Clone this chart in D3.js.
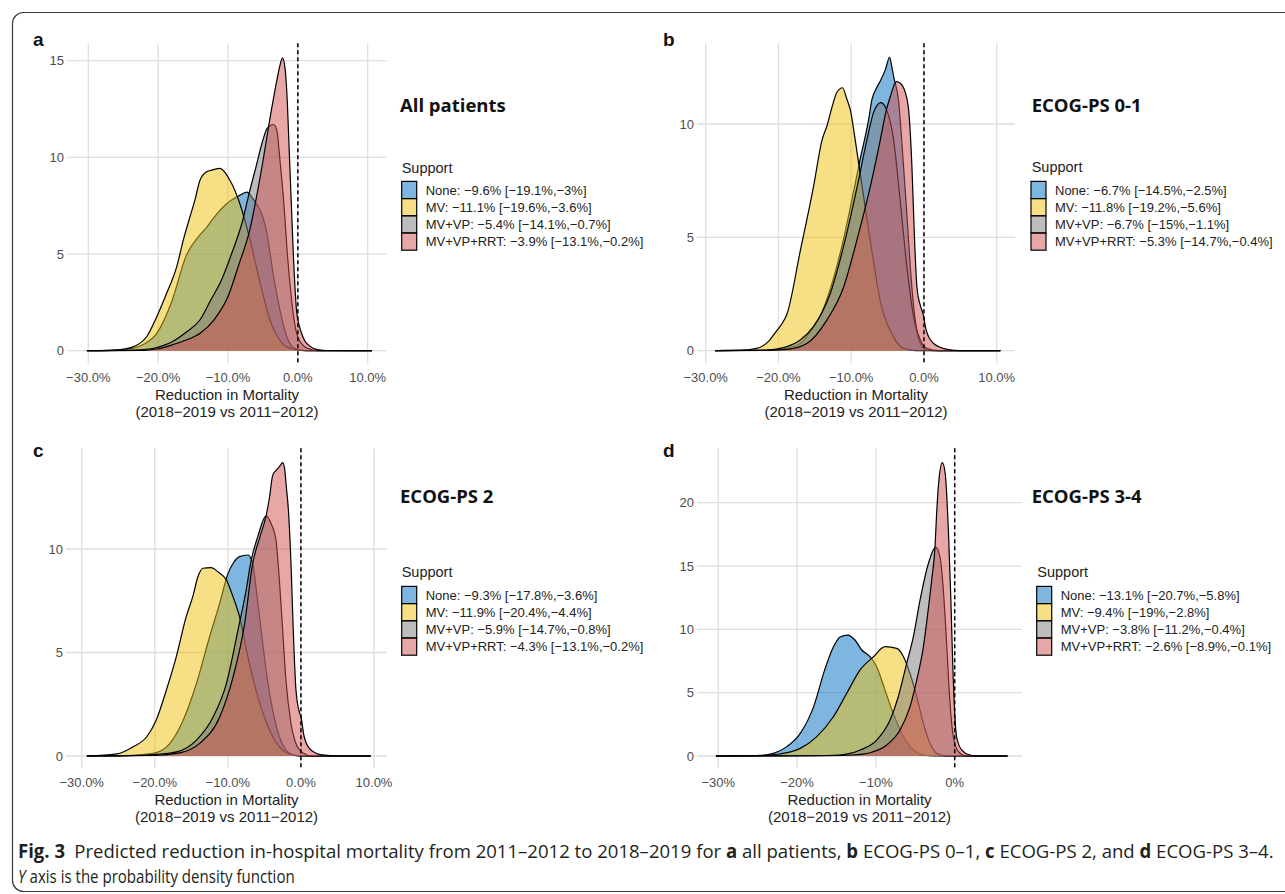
<!DOCTYPE html>
<meta charset="utf-8">
<style>

body {
  margin: 0;
  background: #fff;
}

svg {
  display: block;
  font-family: "Liberation Sans", Arial, sans-serif;
}

.grid line {
  stroke: #dedede;
  stroke-width: 1.3px;
}

.tick-label {
  font-size: 13px;
  fill: #4d4d4d;
}

.axis-title {
  font-size: 15px;
  fill: #222;
}

.letter {
  font-size: 19px;
  font-weight: bold;
  fill: #111;
}

.panel-title {
  font-family: "Open Sans", sans-serif;
  font-size: 18.5px;
  font-weight: 700;
  fill: #111;
}

.legend-title {
  font-size: 14.5px;
  fill: #222;
}

.legend-text {
  font-size: 13px;
  fill: #222;
}

.caption {
  font-family: "Open Sans", sans-serif;
  font-size: 19px;
  fill: #231f20;
}

</style>
<body>
<svg id="fig" width="1285" height="894"></svg>
<script src="https://d3js.org/d3.v7.min.js"></script>
<script>

// groups and their fill colours (drawn with 50% opacity)
const groups = ["None", "MV", "MV+VP", "MV+VP+RRT"];
const groupFill = ["#006ec1", "#edbf09", "#7b7b7b", "#d14f4f"];

// density curves: [reduction in %, density]
// a: all patients
const aNone = [[-30.2,0],[-26,0.02],[-24,0.1],[-22,0.35],[-20.2,0.9],[-18,2.6],[-16,4.9],[-14,6.0],[-13,6.4],[-12,6.9],[-10.2,7.6],[-8.5,8.0],[-7.3,8.2],[-6.5,7.9],[-5.9,7.6],[-5,6.9],[-4.5,6.2],[-3.5,3.9],[-2.5,2.0],[-1.6,0.75],[-0.6,0.15],[0.5,0.02],[2,0],[10.6,0]];
const aMV = [[-30.2,0],[-27,0.02],[-25,0.08],[-23.56,0.2],[-21.65,0.72],[-20.2,1.76],[-18.8,2.96],[-17.35,4.34],[-16.4,5.72],[-15.44,6.93],[-14.73,7.8],[-14.0,8.83],[-13.06,9.26],[-12.2,9.35],[-11.15,9.43],[-9.7,8.8],[-8.3,7.6],[-7.1,6.1],[-5.4,3.5],[-4,1.6],[-2.6,0.55],[-1.1,0.12],[0.5,0.02],[2,0],[10.6,0]];
const aMVVP = [[-30.2,0],[-24,0.02],[-21,0.1],[-19,0.3],[-17.8,0.5],[-16,0.95],[-14,1.6],[-12.5,2.6],[-11,3.6],[-9.5,5.0],[-7.85,6.8],[-7,8.1],[-6,9.5],[-5,10.9],[-4.4,11.5],[-3.5,11.7],[-3,11.4],[-2.6,10.0],[-2,7.6],[-1.5,5.0],[-1,3.0],[-0.5,1.5],[0,0.7],[1,0.2],[2,0.05],[3,0],[10.6,0]];
const aRRT = [[-30.2,0],[-22,0.02],[-20,0.1],[-18,0.3],[-16,0.55],[-14,0.9],[-12,1.6],[-10,2.8],[-8.5,4.4],[-6.85,6.3],[-6,7.8],[-5,9.8],[-4,12.0],[-3,14.0],[-2.6,14.7],[-2.2,15.15],[-1.8,14.5],[-1.5,12.8],[-1.2,10.0],[-0.9,7.3],[-0.65,5.0],[-0.4,3.2],[-0.17,2.0],[0.2,1.3],[0.54,0.9],[1,0.5],[1.5,0.3],[2.5,0.08],[4,0.01],[10.6,0]];

// b: ECOG-PS 0-1
const bNone = [[-28.7,0],[-22,0.02],[-19.8,0.06],[-17,0.32],[-15.5,0.9],[-14.3,1.5],[-13,2.6],[-12,3.7],[-11,5.0],[-10.1,6.35],[-8.8,8.4],[-7.6,10.2],[-7.16,11.06],[-6.5,11.6],[-6.0,11.9],[-5.3,12.4],[-4.72,12.94],[-4.4,12.5],[-4.17,12.1],[-3.5,11.06],[-2.8,8.1],[-2.3,5.8],[-1.88,3.7],[-1.2,1.35],[-0.5,0.32],[0.4,0.03],[1.5,0],[10.5,0]];
const bMV = [[-28.7,0],[-25.3,0.01],[-23,0.1],[-21.4,0.4],[-20.2,0.9],[-19.5,1.2],[-18.85,1.6],[-17,4.4],[-15.2,7.2],[-14,9.3],[-13.35,9.9],[-12.5,10.9],[-11.97,11.4],[-11.19,11.6],[-10.6,11.1],[-10.1,10.6],[-9.45,9.3],[-8.76,7.8],[-7.4,4.9],[-6.0,2.2],[-4.17,0.6],[-2.8,0.1],[-1,0],[10.5,0]];
const bMVVP = [[-28.7,0],[-24,0.01],[-21.6,0.03],[-18.85,0.18],[-17,0.47],[-15.2,1.06],[-12.9,2.5],[-11.05,4.6],[-9.2,7.2],[-7.84,9.3],[-6.93,10.5],[-5.92,10.94],[-5.1,10.6],[-4.17,9.3],[-3.26,6.6],[-2.34,3.7],[-1.42,1.5],[-0.5,0.47],[0.4,0.1],[2,0],[10.5,0]];
const bRRT = [[-28.7,0],[-22,0.01],[-18.85,0.06],[-16.1,0.32],[-13.35,1.35],[-11.05,2.8],[-9.2,4.9],[-7.4,7.2],[-6.0,9.3],[-5.18,10.6],[-4.63,11.2],[-3.8,11.87],[-3.26,11.8],[-2.57,11.4],[-2.1,10.6],[-1.65,8.1],[-1.33,5.2],[-0.96,2.8],[-0.5,2.0],[-0.14,1.65],[0.32,0.9],[1.33,0.32],[3.2,0.06],[5,0],[10.5,0]];

// c: ECOG-PS 2
const cNone = [[-29.3,0],[-24,0.02],[-20.2,0.13],[-17.95,0.6],[-16.1,1.74],[-14.3,3.5],[-12.5,5.76],[-11.1,7.4],[-10,8.8],[-9.3,9.3],[-8.4,9.63],[-7.27,9.71],[-6.6,9.3],[-6.1,8.0],[-5.45,6.1],[-4.77,4.15],[-3.86,2.2],[-2.95,0.93],[-2.05,0.29],[-1.1,0.05],[0,0],[9.55,0]];
const cMV = [[-29.3,0],[-25.2,0.1],[-22.95,0.45],[-21.1,0.93],[-19.8,1.74],[-18.4,3.2],[-17.05,4.8],[-15.7,6.73],[-14.8,7.7],[-14.1,8.66],[-13.4,9.07],[-12.3,9.1],[-11.36,8.9],[-10.2,8.5],[-9.3,7.7],[-8.4,6.73],[-7.27,4.8],[-5.9,2.87],[-4.3,1.26],[-2.95,0.45],[-1.6,0.1],[0,0],[9.55,0]];
const cMVVP = [[-29.3,0],[-22,0.03],[-19.8,0.08],[-17,0.2],[-14.3,0.77],[-12,1.9],[-10.2,3.5],[-8.6,6.1],[-7.5,8.0],[-6.8,9.47],[-5.9,10.6],[-4.77,11.6],[-4.1,11.24],[-3.4,10.4],[-2.95,8.5],[-2.5,6.1],[-2.05,3.67],[-1.36,1.58],[-0.68,0.6],[0.23,0.16],[1.5,0],[9.55,0]];
const cRRT = [[-29.3,0],[-20,0.03],[-16.6,0.15],[-13.9,0.6],[-11.1,1.9],[-9.3,3.8],[-7.7,6.4],[-6.6,9.3],[-5.6,10.6],[-4.77,11.6],[-4.3,12.5],[-3.86,13.57],[-3.4,13.8],[-2.9,14.0],[-2.5,14.17],[-2.2,13.8],[-2.05,13.2],[-1.68,11.7],[-1.36,9.3],[-1.05,6.1],[-0.68,3.2],[-0.2,2.1],[0,1.9],[0.45,0.93],[1.36,0.29],[2.95,0.05],[5,0],[9.55,0]];

// d: ECOG-PS 3-4
const dNone = [[-30.3,0],[-25.1,0.03],[-23,0.21],[-21.3,0.74],[-19.6,1.79],[-17.9,3.9],[-16.5,6.8],[-15.4,8.6],[-14.55,9.4],[-13.6,9.55],[-12.65,9.16],[-11.8,8.37],[-10.75,7.84],[-9.9,7.05],[-8.84,5.2],[-7.8,3.37],[-6.5,1.53],[-5.25,0.47],[-4.0,0.08],[-2.5,0],[6.7,0]];
const dMV = [[-30.3,0],[-24.7,0.03],[-22.2,0.16],[-19.6,0.6],[-17.5,1.53],[-15.4,3.1],[-13.7,4.95],[-12.0,6.8],[-10.3,7.84],[-8.84,8.63],[-7.36,8.5],[-6.5,7.84],[-5.67,6.5],[-4.82,4.7],[-3.98,2.58],[-3.13,1.0],[-2.3,0.21],[-1.44,0.03],[0,0],[6.7,0]];
const dMVVP = [[-30.3,0],[-18,0.02],[-14.6,0.08],[-12.0,0.47],[-9.9,1.26],[-8.2,2.84],[-7.15,4.7],[-6.1,7.3],[-5.25,9.4],[-4.4,12.3],[-3.34,15.2],[-2.41,16.5],[-1.86,15.7],[-1.44,13.1],[-1.0,8.6],[-0.6,4.2],[-0.17,1.5],[0.47,0.34],[1.3,0.03],[2.5,0],[6.7,0]];
const dRRT = [[-30.3,0],[-16,0.02],[-12.9,0.08],[-10.75,0.26],[-8.63,0.87],[-6.94,2.05],[-5.67,3.9],[-4.82,6.0],[-3.98,8.6],[-3.47,11.0],[-2.92,13.9],[-2.5,16.5],[-2.29,19.2],[-2.0,21.8],[-1.57,23.16],[-1.2,22.3],[-1.0,20.5],[-0.8,17.8],[-0.5,12.6],[-0.25,7.3],[0,3.4],[0.25,1.5],[0.9,0.47],[1.95,0.08],[3,0],[6.7,0]];

// legend summaries: median [lower, upper]
const aMedian = [-9.6, -11.1, -5.4, -3.9];
const aLow = [-19.1, -19.6, -14.1, -13.1];
const aHigh = [-3, -3.6, -0.7, -0.2];
const bMedian = [-6.7, -11.8, -6.7, -5.3];
const bLow = [-14.5, -19.2, -15, -14.7];
const bHigh = [-2.5, -5.6, -1.1, -0.4];
const cMedian = [-9.3, -11.9, -5.9, -4.3];
const cLow = [-17.8, -20.4, -14.7, -13.1];
const cHigh = [-3.6, -4.4, -0.8, -0.2];
const dMedian = [-13.1, -9.4, -3.8, -2.6];
const dLow = [-20.7, -19, -11.2, -8.9];
const dHigh = [-5.8, -2.8, -0.4, -0.1];

// tick values
const xTicks = [-30, -20, -10, 0, 10];
const xTicksD = [-30, -20, -10, 0];
const yTicksA = [0, 5, 10, 15];
const yTicksB = [0, 5, 10];
const yTicksC = [0, 5, 10];
const yTicksD = [0, 5, 10, 15, 20];

const captionLine1 = [
  {t: "Fig. 3", b: true},
  {t: "\u2002Predicted reduction in-hospital mortality from 2011\u20132012 to 2018\u20132019 for "},
  {t: "a", b: true}, {t: " all patients, "},
  {t: "b", b: true}, {t: " ECOG-PS 0\u20131, "},
  {t: "c", b: true}, {t: " ECOG-PS 2, and "},
  {t: "d", b: true}, {t: " ECOG-PS 3\u20134."}
];

const fmt1 = v => d3.format(".1f")(v) + "%";
const fmt0 = v => d3.format("d")(v) + "%";
const pct = v => String(v).replace("-", "\u2212") + "%";

const panels = [
  {letter: "a", title: "All patients", dens: [aNone, aMV, aMVVP, aRRT], med: aMedian, lo: aLow, hi: aHigh,
   left: 67, right: 387, top: 43.3, bottom: 363.3, xPx: [88.3, 367.7], xDom: [-30, 10],
   yPx: [350.7, 60.7], yDom: [0, 15], xt: xTicks, yt: yTicksA, fmt: fmt1,
   letterX: 33, letterY: 46, titleX: 400, titleY: 111.7, suppX: 401.7, suppY: 172.7, keyX: 401.7, keyY: 190},
  {letter: "b", title: "ECOG-PS 0-1", dens: [bNone, bMV, bMVVP, bRRT], med: bMedian, lo: bLow, hi: bHigh,
   left: 697, right: 1015, top: 43.3, bottom: 363.3, xPx: [705.7, 996.7], xDom: [-30, 10],
   yPx: [350.7, 124], yDom: [0, 10], xt: xTicks, yt: yTicksB, fmt: fmt1,
   letterX: 663, letterY: 46, titleX: 1031.7, titleY: 112.3, suppX: 1031.7, suppY: 171.7, keyX: 1031, keyY: 190},
  {letter: "c", title: "ECOG-PS 2", dens: [cNone, cMV, cMVVP, cRRT], med: cMedian, lo: cLow, hi: cHigh,
   left: 66, right: 387, top: 448.3, bottom: 768.3, xPx: [81.7, 374], xDom: [-30, 10],
   yPx: [756, 549], yDom: [0, 10], xt: xTicks, yt: yTicksC, fmt: fmt1,
   letterX: 33, letterY: 457, titleX: 400, titleY: 502.7, suppX: 401.7, suppY: 577.3, keyX: 401.7, keyY: 595},
  {letter: "d", title: "ECOG-PS 3-4", dens: [dNone, dMV, dMVVP, dRRT], med: dMedian, lo: dLow, hi: dHigh,
   left: 697, right: 1022, top: 448.3, bottom: 768.3, xPx: [718.3, 954.7], xDom: [-30, 0],
   yPx: [756, 502.7], yDom: [0, 20], xt: xTicksD, yt: yTicksD, fmt: fmt0,
   letterX: 663, letterY: 457, titleX: 1031.7, titleY: 503.3, suppX: 1037.3, suppY: 577.3, keyX: 1036.7, keyY: 595}
];

const svg = d3.select("#fig");

// outer frame of the figure
svg.append("rect")
  .attr("x", 12.5).attr("y", 12.5)
  .attr("width", 1300).attr("height", 879)
  .attr("rx", 11)
  .attr("fill", "none")
  .attr("stroke", "#3a3a3a")
  .attr("stroke-width", 1.2);

panels.forEach(p => {
  const x = d3.scaleLinear().domain(p.xDom).range(p.xPx);
  const y = d3.scaleLinear().domain(p.yDom).range(p.yPx);
  const g = svg.append("g");

  // grid
  const grid = g.append("g").attr("class", "grid");
  grid.selectAll(".h").data(p.yt).enter().append("line")
    .attr("x1", p.left).attr("x2", p.right)
    .attr("y1", d => y(d)).attr("y2", d => y(d));
  grid.selectAll(".v").data(p.xt).enter().append("line")
    .attr("x1", d => x(d)).attr("x2", d => x(d))
    .attr("y1", p.top).attr("y2", p.bottom);

  // tick labels
  g.selectAll(".yl").data(p.yt).enter().append("text")
    .attr("class", "tick-label")
    .attr("x", p.left - 3).attr("y", d => y(d))
    .attr("dy", "0.35em")
    .attr("text-anchor", "end")
    .text(d => d);
  g.selectAll(".xl").data(p.xt).enter().append("text")
    .attr("class", "tick-label")
    .attr("x", d => x(d)).attr("y", p.bottom + 19)
    .attr("text-anchor", "middle")
    .text(p.fmt);

  // axis title
  const cx = (p.left + p.right) / 2;
  g.append("text").attr("class", "axis-title")
    .attr("x", cx).attr("y", p.bottom + 37)
    .attr("text-anchor", "middle")
    .text("Reduction in Mortality");
  g.append("text").attr("class", "axis-title")
    .attr("x", cx).attr("y", p.bottom + 53.5)
    .attr("text-anchor", "middle")
    .text("(2018\u22122019 vs 2011\u22122012)");

  // densities, in group order
  const area = d3.area()
    .x(d => x(d[0])).y0(y(0)).y1(d => y(d[1]))
    .curve(d3.curveMonotoneX);
  const line = d3.line()
    .x(d => x(d[0])).y(d => y(d[1]))
    .curve(d3.curveMonotoneX);

  p.dens.forEach((dd, i) => {
    g.append("path").datum(dd)
      .attr("d", area)
      .attr("fill", groupFill[i])
      .attr("fill-opacity", 0.5);
    g.append("path").datum(dd)
      .attr("d", line)
      .attr("fill", "none")
      .attr("stroke", "#000")
      .attr("stroke-width", 1.2)
      .attr("stroke-linejoin", "round");
  });

  // zero reference
  g.append("line")
    .attr("x1", x(0)).attr("x2", x(0))
    .attr("y1", p.top).attr("y2", p.bottom)
    .attr("stroke", "#000")
    .attr("stroke-width", 1.5)
    .attr("stroke-dasharray", "4,3");

  // panel letter and title
  g.append("text").attr("class", "letter")
    .attr("x", p.letterX).attr("y", p.letterY).text(p.letter);
  g.append("text").attr("class", "panel-title")
    .attr("x", p.titleX).attr("y", p.titleY).text(p.title);

  // legend
  g.append("text").attr("class", "legend-title")
    .attr("x", p.suppX).attr("y", p.suppY).text("Support");
  const rowH = 17.2;
  const rows = g.selectAll(".leg").data(groups).enter().append("g")
    .attr("transform", (d, i) => `translate(${p.keyX}, ${p.keyY + i * rowH})`);
  rows.append("rect")
    .attr("x", 0).attr("y", -rowH / 2)
    .attr("width", 15).attr("height", rowH)
    .attr("fill", (d, i) => groupFill[i])
    .attr("fill-opacity", 0.5)
    .attr("stroke", "#000")
    .attr("stroke-width", 1.2);
  rows.append("text").attr("class", "legend-text")
    .attr("x", 24).attr("dy", "0.36em")
    .text((d, i) => `${d}: ${pct(p.med[i])} [${pct(p.lo[i])},${pct(p.hi[i])}]`);
});

// caption, squeezed horizontally to the condensed width of the original
function caption(y, width, build) {
  const g = svg.append("g");
  const t = g.append("text").attr("class", "caption");
  build(t);
  const w = t.node().getComputedTextLength();
  g.attr("transform", `translate(18, ${y}) scale(${width / w}, 1)`);
}

caption(858, 1257, t => {
  captionLine1.forEach(s => {
    t.append("tspan").attr("font-weight", s.b ? 700 : 400).text(s.t);
  });
});

caption(883, 277, t => {
  t.append("tspan").attr("font-style", "italic").text("Y");
  t.append("tspan").text(" axis is the probability density function");
});

</script>
</body>
